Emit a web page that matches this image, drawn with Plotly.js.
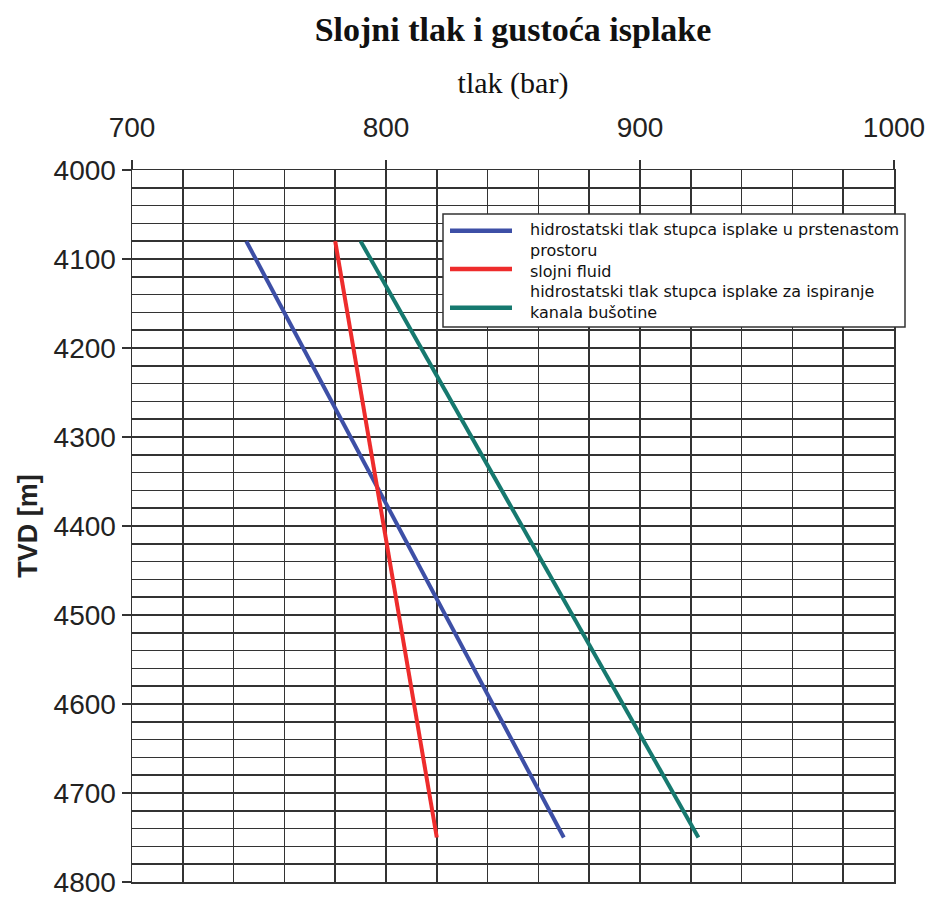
<!DOCTYPE html>
<html>
<head>
<meta charset="utf-8">
<script src="https://cdn.plot.ly/plotly-3.0.1.min.js"></script>
<style>html,body{margin:0;padding:0;background:#fff;}#chart{width:938px;height:899px;}</style>
</head>
<body>
<div id="chart"></div>
<script>
// Data
const depthTVD = [4080, 4750];               // m
const annulusPressure = [745, 870];          // bar – hidrostatski tlak u prstenastom prostoru
const formationPressure = [780, 820];        // bar – slojni fluid
const flushingPressure = [790, 923];         // bar – tlak za ispiranje kanala bušotine
const seriesNames = [
  'hidrostatski tlak stupca isplake u prstenastom prostoru',
  'slojni fluid',
  'hidrostatski tlak stupca isplake za ispiranje kanala bušotine'
];
const legendText = [
  'hidrostatski tlak stupca isplake u prstenastom',
  'prostoru',
  'slojni fluid',
  'hidrostatski tlak stupca isplake za ispiranje',
  'kanala bušotine'
];
const colors = ['#3d4fa6', '#ee2c2c', '#16796f'];

const traces = [annulusPressure, formationPressure, flushingPressure].map((xs, i) => ({
  type: 'scatter', mode: 'lines', x: xs, y: depthTVD, name: seriesNames[i],
  line: {color: colors[i], width: 4}, showlegend: false
}));

const W = 938, H = 899, mL = 132, mR = 44, mT = 170, mB = 17;
const pw = W - mL - mR, ph = H - mT - mB;
const px = v => (v - mL) / pw;
const py = v => (H - mB - v) / ph;

const shapes = [{
  type: 'rect', xref: 'paper', yref: 'paper', layer: 'above',
  x0: px(443), x1: px(905), y0: py(327), y1: py(214),
  fillcolor: '#fff', line: {color: '#333', width: 1.5}
}];
const legendY = [230.7, 269, 307.7];
legendY.forEach((yy, i) => shapes.push({
  type: 'line', xref: 'paper', yref: 'paper', layer: 'above',
  x0: px(450), x1: px(512), y0: py(yy), y1: py(yy),
  line: {color: colors[i], width: 4.5}
}));
const annotations = [{
  xref: 'paper', yref: 'paper', x: px(528), y: py(271), xanchor: 'left', yanchor: 'middle',
  align: 'left', text: legendText.join('<br>'), showarrow: false,
  font: {family: 'DejaVu Sans, Liberation Sans, Arial', size: 16, color: '#111'}
}];

const gridColor = '#333';
const tickFont = {family: 'Liberation Sans, Arial', size: 28, color: '#222'};
const layout = {
  width: W, height: H,
  margin: {l: mL, r: mR, t: mT, b: mB},
  paper_bgcolor: '#fff', plot_bgcolor: '#fff',
  showlegend: false,
  title: {
    text: '<b>Slojni tlak i gustoća isplake</b>',
    font: {family: 'Liberation Serif, Times New Roman', size: 34, color: '#111'},
    x: 0.5, xref: 'paper', y: 0.968, yref: 'container', yanchor: 'middle'
  },
  xaxis: {
    side: 'top', range: [700, 1000], tick0: 700, dtick: 100,
    ticks: 'outside', ticklen: 9, tickwidth: 1.5, tickcolor: gridColor,
    ticklabelstandoff: 11,
    showgrid: true, gridcolor: gridColor, gridwidth: 1.5,
    minor: {tick0: 700, dtick: 20, showgrid: true, gridcolor: gridColor, gridwidth: 1.5},
    showline: true, mirror: true, linecolor: gridColor, linewidth: 1.5,
    zeroline: false,
    tickfont: tickFont,
    title: {text: 'tlak (bar)', font: {family: 'Liberation Serif, Times New Roman', size: 30, color: '#111'}, standoff: 10}
  },
  yaxis: {
    range: [4800, 4000], tick0: 4000, dtick: 100,
    ticks: 'outside', ticklen: 9, tickwidth: 1.5, tickcolor: gridColor,
    ticklabeloverflow: 'allow',
    showgrid: true, gridcolor: gridColor, gridwidth: 1.5,
    minor: {tick0: 4000, dtick: 20, showgrid: true, gridcolor: gridColor, gridwidth: 1.5},
    showline: true, mirror: true, linecolor: gridColor, linewidth: 1.5,
    zeroline: false,
    tickfont: tickFont,
    title: {text: '<b>TVD [m]</b>', font: {family: 'Liberation Sans, Arial', size: 27, color: '#222'}, standoff: 8}
  },
  shapes: shapes,
  annotations: annotations
};

Plotly.newPlot('chart', traces, layout, {displayModeBar: false, staticPlot: true});
</script>
</body>
</html>
